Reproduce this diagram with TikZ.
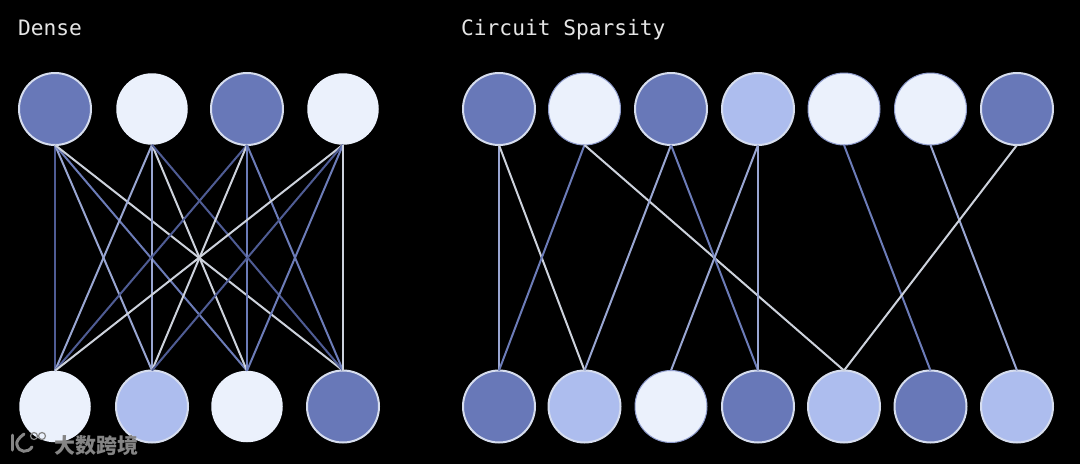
\documentclass[tikz,border=0pt]{standalone}
\usepackage{fontspec}
\setmonofont{DejaVu Sans Mono}
\newfontfamily\cjkfont{Noto Sans CJK SC}
\definecolor{ndark}{HTML}{6878B8}
\definecolor{nmid}{HTML}{ADBDEE}
\definecolor{nwhite}{HTML}{EBF1FC}
\definecolor{ringlight}{HTML}{D6DDEE}
\definecolor{ldark}{HTML}{4F5C94}
\definecolor{lblue}{HTML}{6C7CB8}
\definecolor{lmid}{HTML}{99A6D2}
\definecolor{lpale}{HTML}{CDD2DC}
\definecolor{wmgray}{HTML}{858585}
\tikzset{
  x=1pt,y=-1pt,
  neuron/.style={circle,inner sep=0pt,outer sep=0pt,minimum size=72pt,line width=2pt},
  ndk/.style={neuron,fill=ndark,draw=ringlight},
  nmd/.style={neuron,fill=nmid,draw=ringlight},
  nwh/.style={neuron,fill=nwhite,minimum size=71.5pt},
  nwe/.style={neuron,fill=nwhite,draw=ndark!70!nwhite,line width=1pt,minimum size=72pt},
  wire/.style={line width=2pt},
  ed/.style={wire,draw=ldark},
  eb/.style={wire,draw=lblue},
  em/.style={wire,draw=lmid},
  ep/.style={wire,draw=lpale},
  title/.style={text=white!90!black,font=\ttfamily\fontsize{21.2}{24}\selectfont,anchor=base west,inner sep=0pt},
  wm/.style={text=wmgray,font=\cjkfont\bfseries\fontsize{21}{24}\selectfont,inner sep=0pt,anchor=west},
  wmline/.style={draw=wmgray,line width=3pt,line cap=round}
}
\begin{document}
\begin{tikzpicture}
\useasboundingbox[fill=black] (0,0) rectangle (1080,464);
\node[title] (tdense) at (18,35.5) {Dense};
\node[title] (tcircuit) at (461,35.5) {Circuit Sparsity};
% Dense
\node[ndk] (a1) at (55,109) {};
\node[nwh] (a2) at (152,109) {};
\node[ndk] (a3) at (247,109) {};
\node[nwh] (a4) at (343,109) {};
\node[nwh] (c1) at (55,406.5) {};
\node[nmd] (c2) at (152,406.5) {};
\node[nwh] (c3) at (247,406.5) {};
\node[ndk] (c4) at (343,406.5) {};
\draw[ed] (a1.south) -- (c1.north);
\draw[em] (a1.south) -- (c2.north);
\draw[eb] (a1.south) -- (c3.north);
\draw[ep] (a1.south) -- (c4.north);
\draw[em] (a2.south) -- (c1.north);
\draw[em] (a2.south) -- (c2.north);
\draw[ep] (a2.south) -- (c3.north);
\draw[ed] (a2.south) -- (c4.north);
\draw[ed] (a3.south) -- (c1.north);
\draw[ep] (a3.south) -- (c2.north);
\draw[eb] (a3.south) -- (c3.north);
\draw[eb] (a3.south) -- (c4.north);
\draw[ep] (a4.south) -- (c1.north);
\draw[ed] (a4.south) -- (c2.north);
\draw[eb] (a4.south) -- (c3.north);
\draw[ep] (a4.south) -- (c4.north);
% Circuit sparsity
\node[ndk] (s1) at (499,109) {};
\node[nwe] (s2) at (584.5,109) {};
\node[ndk] (s3) at (671,109) {};
\node[nmd] (s4) at (758,109) {};
\node[nwe] (s5) at (844,109) {};
\node[nwe] (s6) at (930.5,109) {};
\node[ndk] (s7) at (1017,109) {};
\node[ndk] (u1) at (499,406.5) {};
\node[nmd] (u2) at (584.5,406.5) {};
\node[nwe] (u3) at (671,406.5) {};
\node[ndk] (u4) at (758,406.5) {};
\node[nmd] (u5) at (844,406.5) {};
\node[ndk] (u6) at (930.5,406.5) {};
\node[nmd] (u7) at (1017,406.5) {};
\draw[em] (s1.south) -- (u1.north);
\draw[ep] (s1.south) -- (u2.north);
\draw[eb] (s2.south) -- (u1.north);
\draw[ep] (s2.south) -- (u5.north);
\draw[em] (s3.south) -- (u2.north);
\draw[eb] (s3.south) -- (u4.north);
\draw[em] (s4.south) -- (u3.north);
\draw[em] (s4.south) -- (u4.north);
\draw[eb] (s5.south) -- (u6.north);
\draw[em] (s6.south) -- (u7.north);
\draw[ep] (s7.south) -- (u5.north);
% watermark
\node[wm] (wmtext) at (54,445) {大数跨境};
\draw[wmline] (12,435) -- (12,450);
\draw[wmline] (24,434) .. controls (19,438) and (16,441) .. (17,445)
  .. controls (19,453) and (28,453) .. (32,447);
\draw[wmline,line width=1.2pt] (34,436) circle (3.5);
\draw[wmline,line width=1.2pt] (42,436) circle (3.5);
\end{tikzpicture}
\end{document}
